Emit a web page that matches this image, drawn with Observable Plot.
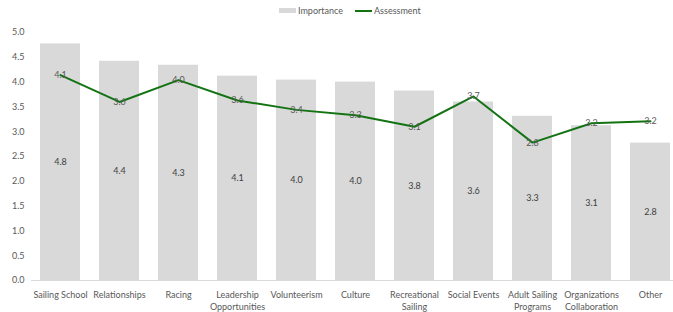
<!DOCTYPE html>
<html>
<head>
<meta charset="utf-8">
<script src="https://cdn.jsdelivr.net/npm/d3@7"></script>
<script src="https://cdn.jsdelivr.net/npm/@observablehq/plot@0.6"></script>
<style>
  body { margin: 0; background: #fff; font-family: Lato, "Open Sans", sans-serif; }
  #legend { position: relative; height: 20px; font-size: 9px; color: #595959; }
  #legend .item { position: absolute; top: 5px; display: flex; align-items: center; }
  #legend .sw { display: inline-block; margin-right: 2px; }
</style>
</head>
<body>
<div id="legend">
  <div class="item" style="left:279px"><span class="sw" style="width:17px;height:5px;background:#d9d9d9"></span>Importance</div>
  <div class="item" style="left:355px"><span class="sw" style="width:17px;height:2px;background:#137313"></span>Assessment</div>
</div>
<div id="chart"></div>
<script>
const categories = ["Sailing School", "Relationships", "Racing", "Leadership\nOpportunities", "Volunteerism", "Culture", "Recreational\nSailing", "Social Events", "Adult Sailing\nPrograms", "Organizations\nCollaboration", "Other"];
const importance = [4.77, 4.42, 4.34, 4.12, 4.04, 4.00, 3.82, 3.60, 3.31, 3.12, 2.77];
const assessment = [4.14, 3.60, 4.04, 3.63, 3.44, 3.33, 3.10, 3.71, 2.78, 3.17, 3.21];
const yTicks = [0, 0.5, 1, 1.5, 2, 2.5, 3, 3.5, 4, 4.5, 5];

const data = categories.map((c, i) => ({cat: c, imp: importance[i], asm: assessment[i]}));
const fmt = d3.format(".1f");

const chart = Plot.plot({
  width: 673,
  height: 292,
  marginTop: 12,
  marginBottom: 32,
  marginLeft: 31,
  marginRight: 0,
  style: {fontFamily: "Lato, 'Open Sans', sans-serif", fontSize: "9px", color: "#595959", background: "#fff"},
  x: {type: "band", domain: categories, range: [30.5, 679.5], paddingInner: 0.32, paddingOuter: 0.16, label: null},
  y: {domain: [0, 5], label: null},
  marks: [
    Plot.barY(data, {x: "cat", y: "imp", fill: "#d9d9d9"}),
    Plot.ruleY([0], {stroke: "#d9d9d9", strokeWidth: 1}),
    Plot.axisY({ticks: yTicks, tickFormat: fmt, tickSize: 0, tickPadding: 7, label: null, fill: "#595959", fontSize: 9}),
    Plot.axisX({tickSize: 0, tickPadding: 9, label: null, fill: "#595959", fontSize: 9, lineHeight: 1.3}),
    Plot.line(data, {x: "cat", y: "asm", stroke: "#137313", strokeWidth: 2}),
    Plot.text(data, {x: "cat", y: d => d.imp / 2, text: d => fmt(d.imp), fill: "#404040", fontSize: 9}),
    Plot.text(data, {x: "cat", y: "asm", text: d => fmt(d.asm), fill: "#595959", fontSize: 9})
  ]
});
document.getElementById("chart").appendChild(chart);
</script>
</body>
</html>
